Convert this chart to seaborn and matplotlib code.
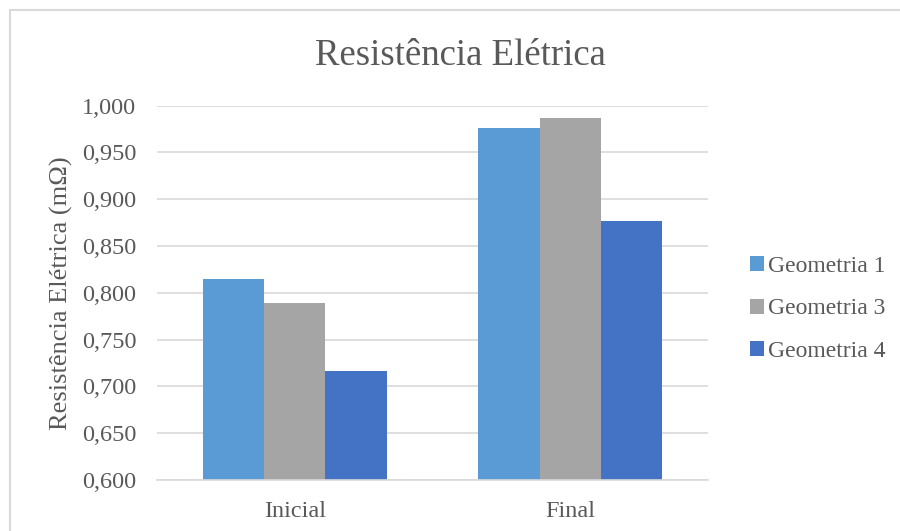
import matplotlib
matplotlib.use("Agg")
import matplotlib.pyplot as plt
from matplotlib.patches import Rectangle
from matplotlib.ticker import FuncFormatter
import seaborn as sns
import pandas as pd

# Data
etapas = ["Inicial", "Final"]
geometrias = ["Geometria 1", "Geometria 3", "Geometria 4"]
geometria_1 = [0.815, 0.976]
geometria_3 = [0.789, 0.987]
geometria_4 = [0.717, 0.877]
cores = ["#5B9BD5", "#A5A5A5", "#4472C4"]

df = pd.DataFrame({
    "Etapa": etapas * 3,
    "Geometria": [g for g in geometrias for _ in etapas],
    "Valor": geometria_1 + geometria_3 + geometria_4,
})

sns.set_theme(style="white")
plt.rcParams["font.family"] = ["Liberation Serif", "DejaVu Serif"]
texto = "#595959"
grade = "#D9D9D9"

fig = plt.figure(figsize=(9, 5.31), dpi=100)
ax = fig.add_axes([157 / 900, 51 / 531, 551 / 900, 374.3 / 531])

sns.barplot(data=df, x="Etapa", y="Valor", hue="Geometria", order=etapas,
            hue_order=geometrias, palette=cores, width=0.668, gap=0,
            saturation=1, ax=ax, legend=True, edgecolor="none")

ax.set_ylim(0.6, 1.0)
ax.set_yticks([0.6 + 0.05 * i for i in range(9)])
ax.yaxis.set_major_formatter(FuncFormatter(lambda v, _: f"{v:.3f}".replace(".", ",")))
ax.grid(axis="y", color=grade, linewidth=1.2)
ax.set_axisbelow(True)
for s in ["top", "right", "left"]:
    ax.spines[s].set_visible(False)
ax.spines["bottom"].set_color(grade)
ax.spines["bottom"].set_linewidth(1.2)
ax.tick_params(axis="both", length=0, labelsize=17.5, colors=texto)
ax.tick_params(axis="y", pad=15)
ax.tick_params(axis="x", pad=15)
ax.set_xlabel("")
ax.set_ylabel("Resistência Elétrica (mΩ)", fontsize=19, color=texto, labelpad=6)

fig.text(460 / 900, 1 - 65 / 531, "Resistência Elétrica", ha="center", va="baseline",
         fontsize=26.5, color=texto)

handles, labels = ax.get_legend_handles_labels()
ax.legend_.remove()
fig.legend(handles, labels, loc="center left", bbox_to_anchor=(729 / 900, 1 - 309 / 531),
           frameon=False, fontsize=17, labelcolor=texto, handlelength=0.6,
           handleheight=0.6, handletextpad=0.15, labelspacing=0.92)

fig.add_artist(Rectangle((10 / 900, -0.02), 1.0, 1 - 9.5 / 531 + 0.02,
                         transform=fig.transFigure, fill=False,
                         edgecolor=grade, linewidth=1.5))

fig.savefig("out.png", dpi=100, facecolor="white")
